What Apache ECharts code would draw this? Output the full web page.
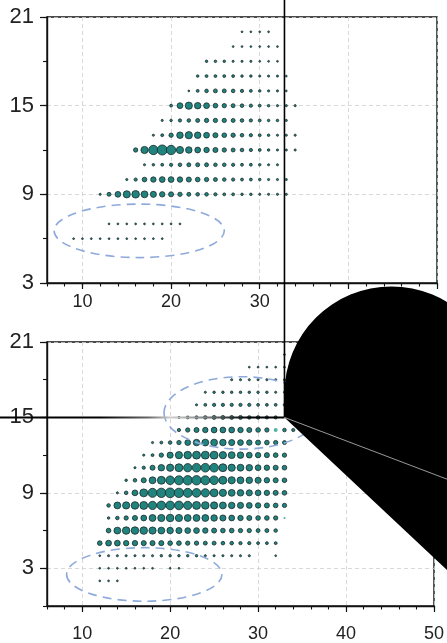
<!DOCTYPE html>
<html>
<head>
<meta charset="utf-8">
<script src="https://cdn.jsdelivr.net/npm/echarts@6/dist/echarts.min.js"></script>
<style>
html,body{margin:0;padding:0;background:#fff;}
#c{width:447px;height:643px;}
</style>
</head>
<body>
<div id="c"></div>
<script>
// ---- data ----
const xMajorTicks = [10, 20, 30, 40, 50];
const xLabelsTop = [10, 20, 30];
const xLabelsBottom = [10, 20, 30, 40, 50];
const yMajorTicks = [3, 9, 15, 21];

// rows: [y, first x, values for consecutive x (0 = no point)]
const topRows = [
  [20, 28, [2.5, 2.5, 2.5, 2.5]],
  [19, 27, [2.5, 2.5, 2.5, 2.5, 2.5, 2.5]],
  [18, 24, [3.5, 3.5, 3.5, 3, 3, 3, 2.5, 2.5, 2.5]],
  [17, 23, [3.5, 4, 4, 4, 4, 3.5, 3.5, 3, 3, 3, 2.5]],
  [16, 22, [2.5, 4, 5, 5.5, 5.5, 5, 4.5, 4, 3.5, 3, 3, 2.5]],
  [15, 20, [4, 8, 10, 9, 8, 6.5, 6, 5.5, 5, 4.5, 4, 3.5, 3, 3, 3]],
  [14, 19, [3, 3.5, 4.5, 5, 5.5, 6, 6, 6, 5.5, 5, 4.5, 4, 3.5, 3.5, 3]],
  [13, 18, [3, 4, 6, 9, 10, 9, 8, 7, 6.5, 6, 5, 4.5, 4, 3.5, 3, 3, 3]],
  [12, 16, [6, 10, 13, 14, 13, 10, 9, 8, 7.5, 7, 6, 5.5, 5, 4.5, 4, 3.5, 3, 3, 3]],
  [11, 17, [3, 3.5, 4, 4.5, 5, 5.5, 5.5, 5.5, 5, 5, 4.5, 4, 4, 3.5, 3, 3]],
  [10, 15, [3, 4.5, 6.5, 7.5, 8, 8, 7.5, 7, 6.5, 6, 5.5, 5, 4.5, 4, 4, 3.5, 3, 3, 3]],
  [9, 12, [3, 5.5, 8, 10, 10.5, 9.5, 8.5, 7.5, 7, 6, 5.5, 5, 5, 4.5, 4, 4, 3.5, 3.5, 3, 3, 3, 3]],
  [7, 13, [2.5, 2.5, 2.5, 2.5, 2.5, 2.5, 2.5, 2.5, 2.5]],
  [6, 9, [2.5, 2.5, 2.5, 2.5, 2.5, 2.5, 2.5, 2.5, 2.5, 2.5, 2.5]]
];

const bottomRows = [
  [20, 33, [2.5]],
  [19, 29, [2.5, 2.5, 2.5, 2.5, 2.5]],
  [18, 27, [3, 3, 3, 3, 3, 3, 3]],
  [17, 24, [3, 3.5, 3.5, 3.5, 3.5, 3.5, 3.5, 3.5, 3, 3]],
  [16, 23, [3, 4, 4.5, 4.5, 4.5, 4.5, 4.5, 4, 4, 4, 3.5]],
  [15, 21, [3, 4, 4.5, 5, 5.5, 5.5, 5.5, 5.5, 5, 5, 4.5, 4.5]],
  [14, 21, [4.5, 6, 7, 7.5, 8, 8, 8, 7.5, 7, 6.5, 6, 5.5, 5, 4.5]],
  [13, 18, [3, 4, 5, 6, 8, 9, 9.5, 9.5, 9, 8.5, 8, 7.5, 7, 6.5, 6, 5.5]],
  [12, 17, [3, 4, 6, 8.5, 10, 10.5, 11, 11, 11, 10, 9.5, 9, 8, 7.5, 7, 6.5, 6]],
  [11, 16, [3, 4.5, 7, 9, 10, 11, 11.5, 12, 12, 12, 11, 10, 9.5, 9, 8, 7.5, 7, 6.5]],
  [10, 15, [3.5, 5, 7, 9.5, 11, 12, 12.5, 13, 13, 12.5, 12, 11, 10, 9.5, 9, 8.5, 7.5, 7, 6.5]],
  [9, 14, [3, 5, 8, 11, 12.5, 13, 13.5, 13, 12.5, 12, 11.5, 11, 10, 9.5, 9, 8.5, 8, 7.5, 7, 6.5]],
  [8, 13, [5, 9.5, 10, 10.5, 11, 11.5, 12, 12, 12, 11.5, 11, 10.5, 10, 9.5, 9, 8.5, 8, 7.5, 7, 6.5, 6]],
  [7, 13, [3.5, 5, 6, 7, 8, 9.5, 10, 10.5, 10, 9.5, 9.5, 9.5, 9, 8.5, 8, 7.5, 7, 6.5, 6.5, 6, 3]],
  [6, 13, [6.5, 9.5, 10.5, 10.5, 10.5, 10, 9.5, 9, 8.5, 8, 8, 7.5, 7, 6.5, 6.5, 6, 6, 5.5, 5.5, 5]],
  [5, 12, [6.5, 8, 8, 7.5, 7.5, 7, 7, 7, 6.5, 6.5, 6, 6, 5.5, 5.5, 5, 5, 4.5, 4.5, 4, 4, 4]],
  [4, 12, [2.5, 3, 3, 3, 3, 3, 3, 3.5, 3.5, 3.5, 3.5, 3.5, 3, 3, 3, 3, 3, 3, 0, 0, 2.5]],
  [3, 12, [2.5, 2.5, 2.5, 2.5, 2.5, 2.5, 2.5, 0, 2.5, 2.5]],
  [2, 12, [2.5, 2.5, 2.5]]
];
// points drawn without outline (lighter)
const bottomPlain = [[32, 14], [33, 7]];

// dashed ellipses: [cx, cy, rx, ry] in data units
const topEllipses = [[16.4, 6.53, 9.6, 1.81]];
const bottomEllipses = [[17.06, 2.51, 8.83, 2.13], [28.1, 15.36, 8.8, 2.88]];

// callout anchor point (bottom panel)
const calloutPoint = [[33, 15]];

// ---- build ----
function expand(rows, plainList) {
  const main = [], plain = [];
  rows.forEach(r => {
    const y = r[0], x0 = r[1];
    r[2].forEach((v, i) => {
      if (!v) return;
      const x = x0 + i;
      const isPlain = plainList && plainList.some(p => p[0] === x && p[1] === y);
      (isPlain ? plain : main).push([x, y, v]);
    });
  });
  return {main, plain};
}
const topData = expand(topRows).main;
const bot = expand(bottomRows, bottomPlain);

const FONT = '"Liberation Sans", Arial, sans-serif';
const AX = '#111';
const sizeFn = d => d[2] * 0.72;
const dotStyle = {color: '#21837d', borderColor: '#1a2a2a', borderWidth: 0.8, opacity: 1};
const splitStyle = {show: true, lineStyle: {color: '#cfcfcf', width: 0.8, type: [4, 3]}};

function majorX(gi, labels, margin) {
  return {
    type: 'value', gridIndex: gi, min: 6, max: 50, position: 'bottom',
    axisLine: {show: true, onZero: false, lineStyle: {color: AX, width: 1.4}},
    axisTick: {show: true, customValues: xMajorTicks, length: 6, lineStyle: {color: AX, width: 1.2}},
    axisLabel: {show: true, customValues: labels, fontSize: 18, color: '#222', fontFamily: FONT, margin: margin},
    splitLine: splitStyle
  };
}
function minorX(gi) {
  return {
    type: 'value', gridIndex: gi, min: 6, max: 50, interval: 2, position: 'bottom',
    axisLine: {show: false, onZero: false},
    axisTick: {show: true, length: 3.5, lineStyle: {color: AX, width: 1.1}},
    axisLabel: {show: false}, splitLine: {show: false}
  };
}
function majorY(gi, min) {
  return {
    type: 'value', gridIndex: gi, min: min, max: 21, position: 'left',
    axisLine: {show: true, onZero: false, lineStyle: {color: AX, width: 1.4}},
    axisTick: {show: true, customValues: yMajorTicks, length: 7, lineStyle: {color: AX, width: 1.2}},
    axisLabel: {show: true, customValues: yMajorTicks, fontSize: 22, color: '#222', fontFamily: FONT, margin: 13},
    splitLine: splitStyle
  };
}
function minorY(gi, min) {
  return {
    type: 'value', gridIndex: gi, min: min, max: 21, interval: 3, position: 'left',
    axisLine: {show: false, onZero: false},
    axisTick: {show: true, length: 4, lineStyle: {color: AX, width: 1.1}},
    axisLabel: {show: false}, splitLine: {show: false}
  };
}

function ellipseRender(params, api) {
  const c = api.coord([api.value(0), api.value(1)]);
  const s = api.size([api.value(2), api.value(3)]);
  const rx = s[0], ry = s[1];
  const d = 'M' + (c[0] - rx) + ' ' + c[1] +
    ' A' + rx + ' ' + ry + ' 0 1 0 ' + (c[0] + rx) + ' ' + c[1] +
    ' A' + rx + ' ' + ry + ' 0 1 0 ' + (c[0] - rx) + ' ' + c[1] + ' Z';
  return {
    type: 'path', shape: {pathData: d},
    style: {fill: 'none', stroke: '#8eaadb', lineWidth: 1.6, lineDash: [9, 6]}
  };
}

function calloutRender(params, api) {
  const A = api.coord([api.value(0), api.value(1)]);
  const r = 107, h = 24;
  const cx = A[0] + r, cy = A[1] - h;
  const lowA = 43.2 * Math.PI / 180, seamA = 20.8 * Math.PI / 180, L = 320;
  const d = 'M' + A[0] + ' ' + A[1] +
    ' L' + A[0] + ' ' + cy +
    ' A' + r + ' ' + r + ' 0 0 1 ' + cx + ' ' + (cy - r) +
    ' A' + r + ' ' + r + ' 0 0 1 ' + (cx + r) + ' ' + cy +
    ' L' + (A[0] + L * Math.cos(lowA)) + ' ' + (A[1] + L * Math.sin(lowA)) + ' Z';
  const grad = new echarts.graphic.LinearGradient(0, A[1], A[0], A[1], [
    {offset: 0, color: '#000'}, {offset: 0.35, color: '#000'},
    {offset: 0.52, color: '#666'}, {offset: 0.6, color: '#d0d0d0'},
    {offset: 0.71, color: '#888'}, {offset: 0.83, color: '#222'},
    {offset: 0.88, color: '#000'}, {offset: 1, color: '#000'}
  ], true);
  return {
    type: 'group',
    children: [
      {type: 'line', shape: {x1: A[0], y1: 0, x2: A[0], y2: A[1]}, style: {stroke: '#000', lineWidth: 1.6}},
      {type: 'line', shape: {x1: 0, y1: A[1], x2: A[0], y2: A[1]}, style: {stroke: grad, lineWidth: 2}},
      {type: 'path', shape: {pathData: d}, style: {fill: '#000', stroke: null}},
      {type: 'line', shape: {x1: A[0], y1: A[1], x2: A[0] + L * Math.cos(seamA), y2: A[1] + L * Math.sin(seamA)},
        style: {stroke: '#fff', lineWidth: 0.6}}
    ]
  };
}

const chart = echarts.init(document.getElementById('c'), null, {renderer: 'canvas'});
chart.setOption({
  animation: false,
  backgroundColor: '#fff',
  grid: [
    {left: 47, right: 10, top: 17, height: 266, show: true, borderColor: AX, borderWidth: 1.4, backgroundColor: 'transparent'},
    {left: 47, right: 10, top: 342, height: 266, show: true, borderColor: AX, borderWidth: 1.4, backgroundColor: 'transparent'}
  ],
  xAxis: [majorX(0, xLabelsTop, 10), minorX(0), majorX(1, xLabelsBottom, 19), minorX(1)],
  yAxis: [majorY(0, 3), minorY(0, 3), majorY(1, 0), minorY(1, 0)],
  series: [
    {type: 'scatter', xAxisIndex: 0, yAxisIndex: 0, data: topData, symbolSize: sizeFn, itemStyle: dotStyle, silent: true, z: 3},
    {type: 'scatter', xAxisIndex: 2, yAxisIndex: 2, data: bot.main, symbolSize: sizeFn, itemStyle: dotStyle, silent: true, z: 3},
    {type: 'scatter', xAxisIndex: 2, yAxisIndex: 2, data: bot.plain, symbolSize: sizeFn,
      itemStyle: {color: '#2a9d95', borderWidth: 0}, silent: true, z: 3},
    {type: 'custom', xAxisIndex: 0, yAxisIndex: 0, data: topEllipses, renderItem: ellipseRender, silent: true, z: 4, clip: false},
    {type: 'custom', xAxisIndex: 2, yAxisIndex: 2, data: bottomEllipses, renderItem: ellipseRender, silent: true, z: 4, clip: false},
    {type: 'custom', xAxisIndex: 2, yAxisIndex: 2, data: calloutPoint, renderItem: calloutRender, silent: true, z: 10, clip: false}
  ]
});
</script>
</body>
</html>
